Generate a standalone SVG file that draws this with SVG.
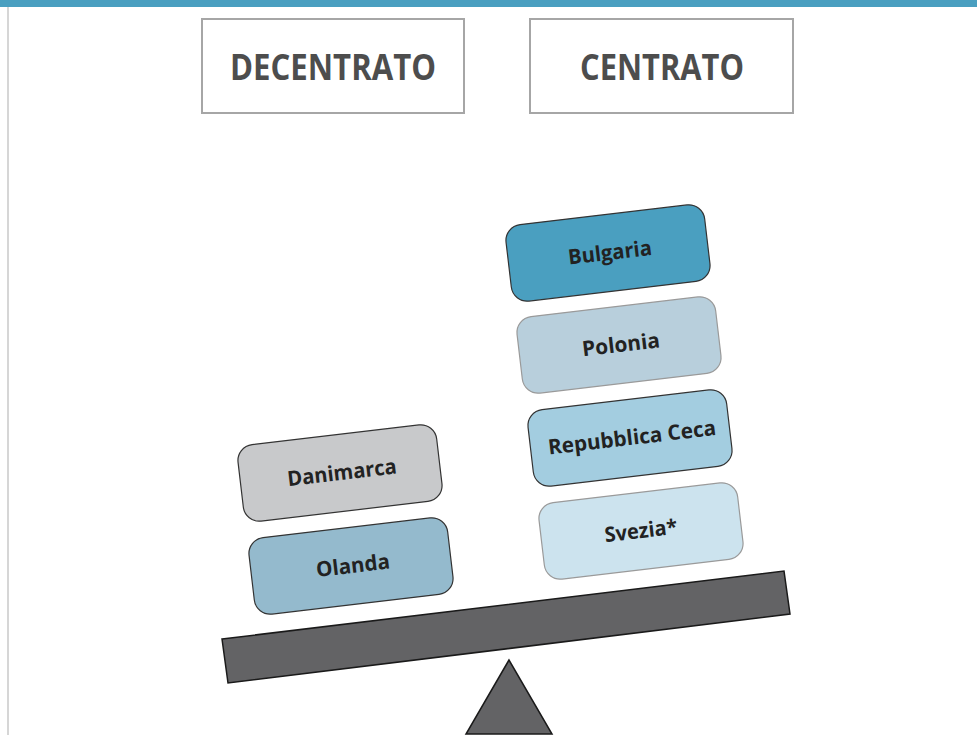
<svg xmlns="http://www.w3.org/2000/svg" width="977" height="735" viewBox="0 0 977 735">
<style>
.hdr rect{fill:#fff;stroke:#a6a6a6;stroke-width:2}
.hdr text{font-family:"Open Sans","Liberation Sans",sans-serif;font-weight:bold;font-size:35px;fill:#4d4d4d;text-anchor:middle}
.box rect{stroke-width:1.2}
.box text{font-family:"Open Sans","Liberation Sans",sans-serif;font-weight:bold;font-size:21px;fill:#222;text-anchor:middle}
.dark{stroke:#333}
.light{stroke:#9a9a9a}
</style>
<rect x="0" y="0" width="977" height="735" fill="#fff"/>
<rect x="0" y="0" width="977" height="7" fill="#4a9fc0"/>
<line x1="8" y1="7" x2="8" y2="735" stroke="#c8c8c8" stroke-width="1.5"/>
<g id="hdr-decentrato" class="hdr">
<rect x="202" y="19" width="262" height="94"/>
<text x="333" y="80" textLength="206" lengthAdjust="spacingAndGlyphs">DECENTRATO</text>
</g>
<g id="hdr-centrato" class="hdr">
<rect x="530" y="19" width="263" height="94"/>
<text x="662" y="80" textLength="164" lengthAdjust="spacingAndGlyphs">CENTRATO</text>
</g>
<g id="beam">
<polygon points="222,639 784,571 790,614 228,683" fill="#636365" stroke="#1a1a1a" stroke-width="1.5"/>
</g>
<g id="fulcrum">
<polygon points="509,660 466,734 552,734" fill="#636365" stroke="#1a1a1a" stroke-width="1.5"/>
</g>
<g id="bulgaria" class="box" transform="translate(608,253) rotate(-6.7)">
<rect class="dark" x="-100" y="-38.5" width="200" height="77" rx="16" fill="#4a9fc0"/>
<text x="2" y="7" textLength="84" lengthAdjust="spacingAndGlyphs">Bulgaria</text>
</g>
<g id="polonia" class="box" transform="translate(619,345) rotate(-6.7)">
<rect class="light" x="-100" y="-38.5" width="200" height="77" rx="16" fill="#b8cfdc"/>
<text x="2" y="7" textLength="78" lengthAdjust="spacingAndGlyphs">Polonia</text>
</g>
<g id="repubblica-ceca" class="box" transform="translate(630,438) rotate(-6.7)">
<rect class="dark" x="-100" y="-38.5" width="200" height="77" rx="16" fill="#a3cde0"/>
<text x="2" y="7" textLength="169" lengthAdjust="spacingAndGlyphs">Repubblica Ceca</text>
</g>
<g id="svezia" class="box" transform="translate(641,531) rotate(-6.7)">
<rect class="light" x="-100" y="-38.5" width="200" height="77" rx="16" fill="#cce3ee"/>
<text x="0" y="7" textLength="73" lengthAdjust="spacingAndGlyphs">Svezia*</text>
</g>
<g id="danimarca" class="box" transform="translate(340,473) rotate(-6.7)">
<rect class="dark" x="-100" y="-38.5" width="200" height="77" rx="16" fill="#c8c9cb"/>
<text x="2" y="7" textLength="110" lengthAdjust="spacingAndGlyphs">Danimarca</text>
</g>
<g id="olanda" class="box" transform="translate(351,566) rotate(-6.7)">
<rect class="dark" x="-100" y="-38.5" width="200" height="77" rx="16" fill="#94bacd"/>
<text x="2" y="7" textLength="74" lengthAdjust="spacingAndGlyphs">Olanda</text>
</g>
</svg>
